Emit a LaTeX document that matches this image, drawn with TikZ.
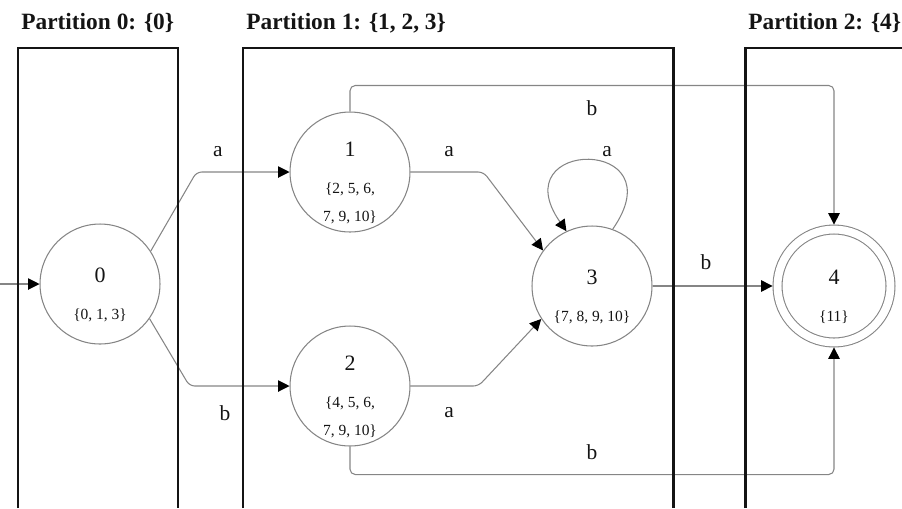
\documentclass[tikz,border=0pt]{standalone}
\usepackage{fontspec}
\setmainfont{Liberation Serif}
\usetikzlibrary{arrows.meta,calc}
\definecolor{dfaink}{HTML}{141414}
\definecolor{dfaline}{HTML}{858585}
\newcommand{\numfont}{\fontsize{12.5}{15}\selectfont}
\newcommand{\partbox}[4]{%
  \draw[dfaink, line width=1.7pt] (#2,508) -- (#2,48) -- (#3,48) -- (#3,508);
  \node[parttitle] (#1) at ({#2+3},29) {#4};
}
\newcommand{\dfastate}[6][]{%
  \node[state, #1] (#2) at (#3,#4) {};
  \node[statetext] (#2t) at (#3,{#4+11}) {{\numfont #5}\\[5pt]#6};
}

\begin{document}
\begin{tikzpicture}[x=0.02cm, y=-0.02cm,
  state/.style={circle, draw=dfaline, line width=0.6pt, fill=white,
    minimum size=2.4cm, inner sep=0pt},
  accepting/.style={double=white, double distance=4.5pt,
    minimum size=2.26cm, outer sep=2.8pt},
  statetext/.style={align=center, inner sep=0pt, text=dfaink,
    font=\fontsize{8.8}{16}\selectfont},
  parttitle/.style={anchor=base west, inner sep=0pt, text=dfaink,
    font=\fontsize{13.3}{16}\selectfont\bfseries},
  edgelabel/.style={inner sep=0pt, text=dfaink,
    font=\fontsize{12.2}{14}\selectfont},
  trans/.style={draw=dfaline, line width=0.6pt, rounded corners=3pt,
    -{Triangle[color=black, length=6.5pt, width=6.5pt]}}]

  \useasboundingbox (0,0) rectangle (902,508);

  % states
  \dfastate{s0}{100}{284}{0}{\{0, 1, 3\}}
  \dfastate{s1}{350}{172}{1}{\{2, 5, 6,\\7, 9, 10\}}
  \dfastate{s2}{350}{386}{2}{\{4, 5, 6,\\7, 9, 10\}}
  \dfastate{s3}{592}{286}{3}{\{7, 8, 9, 10\}}
  \dfastate[accepting]{s4}{834}{286}{4}{\{11\}}

  \coordinate (init) at (0,284);

  % transitions
  \draw[trans] (init) -- (s0.west);
  \draw[trans] (s0.33) -- ($(s1.west)+(-93,0)$) -- (s1.west);
  \draw[trans] (s0.-35) -- ($(s2.west)+(-100,0)$) -- (s2.west);
  \draw[trans] (s1.east) -- ($(s1.east)+(73,0)$) -- (s3.144);
  \draw[trans] (s2.east) -- ($(s2.east)+(68,0)$) -- (s3.213);
  \draw[trans] (s3.70) .. controls +(65,-93) and +(-65,-93) .. (s3.115);
  \draw[trans] (s3) -- (s4);
  \draw[trans] (s1.north) -- ++(0,-26) -| (s4.north);
  \draw[trans] (s2.south) -- ++(0,28) -| (s4.south);

  \node[edgelabel] (l01) at (218,152) {a};
  \node[edgelabel] (l02) at (225,413) {b};
  \node[edgelabel] (l13) at (449,152) {a};
  \node[edgelabel] (l23) at (449,413) {a};
  \node[edgelabel] (l33) at (607,152) {a};
  \node[edgelabel] (l34) at (706,262) {b};
  \node[edgelabel] (l14) at (592,108) {b};
  \node[edgelabel] (l24) at (592,452) {b};

  % partitions
  \partbox{p0}{18}{178}{Partition 0: \{0\}}
  \partbox{p1}{243}{673}{Partition 1: \{1, 2, 3\}}
  \partbox{p2}{745}{906}{Partition 2: \{4\}}

\end{tikzpicture}
\end{document}
